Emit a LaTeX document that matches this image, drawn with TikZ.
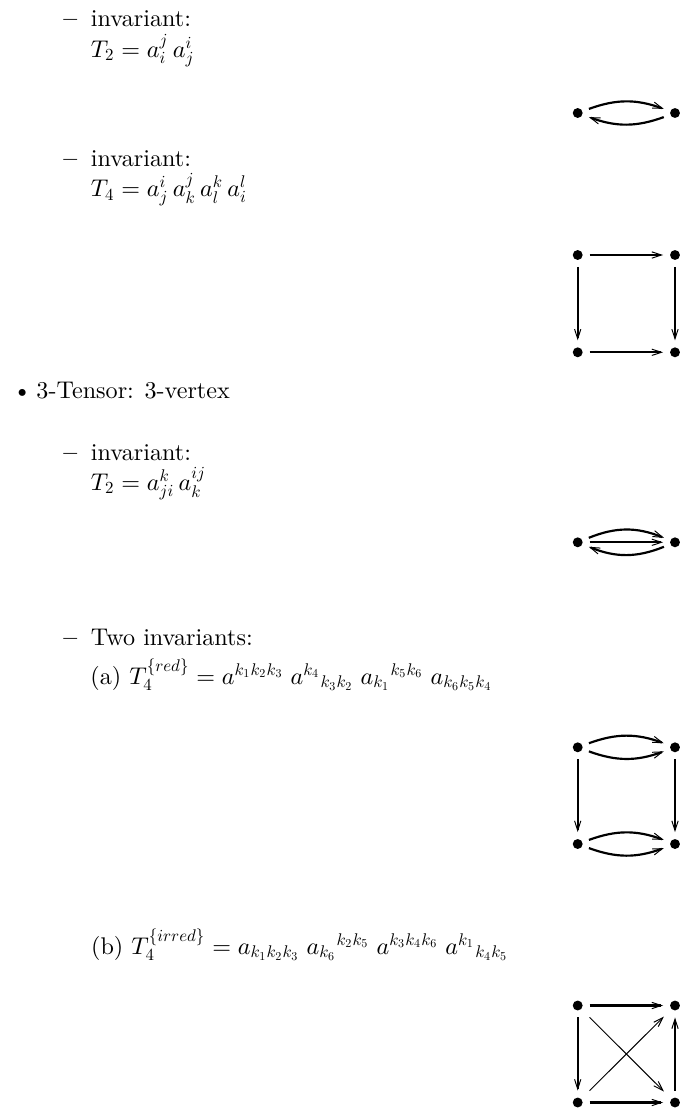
\documentclass[tikz,border=0pt]{standalone}
\usepackage{amsmath,amssymb}
\usepackage{tikz}
\usetikzlibrary{arrows.meta}
\DeclareFontShape{OML}{cmm}{m}{it}{<->cmmi10}{}
\DeclareFontShape{OT1}{cmr}{m}{n}{<->cmr10}{}
\DeclareFontShape{OMS}{cmsy}{m}{n}{<->cmsy10}{}
\DeclareMathSizes{10}{10}{7.001}{5.001}

\begin{document}
\begin{tikzpicture}[
  x=0.4143pt, y=-0.4143pt,
  txt/.style={anchor=base west, inner sep=0pt, font=\normalsize},
  dot/.style={circle, fill, inner sep=0pt, minimum size=4.1pt, outer sep=2.9pt},
  arr/.style={-{Straight Barb[length=4pt,width=2.6pt,line width=0.4pt]}, line width=0.9pt},
  diag/.style={-{Straight Barb[length=4pt,width=2.6pt,line width=0.4pt]}, line width=0.4pt, shorten <=2pt, shorten >=1.5pt}
]
  \useasboundingbox (0,0) rectangle (684,1109);

  \node[txt] (dashA) at (63,26) {\textbf{--}};
  \node[txt] (invA) at (90.5,26) {invariant:};
  \node[txt] (eqA) at (90.5,57) {$T_2 = a^j_i\,a^i_j$};
  \node[dot] (pa) at (577.7,113) {};
  \node[dot] (pb) at (675,113) {};
  \draw[arr] (pa) to[bend left=20] (pb);
  \draw[arr] (pb) to[bend left=20] (pa);

  \node[txt] (dashB) at (63,166.7) {\textbf{--}};
  \node[txt] (invB) at (90.5,166.7) {invariant:};
  \node[txt] (eqB) at (90.5,196.5) {$T_4 = a^i_j\,a^j_k\,a^k_l\,a^l_i$};
  \node[dot] (sa) at (577.7,255) {};
  \node[dot] (sb) at (675,255) {};
  \node[dot] (sc) at (577.7,352.3) {};
  \node[dot] (sd) at (675,352.3) {};
  \draw[arr] (sa) -- (sb);
  \draw[arr] (sa) -- (sc);
  \draw[arr] (sb) -- (sd);
  \draw[arr] (sc) -- (sd);

  \node[txt] (bulC) at (12.5,398.3) {\textbullet};
  \node[txt] (tensC) at (36,398.3) {3-Tensor: 3-vertex};

  \node[txt] (dashD) at (63,460) {\textbf{--}};
  \node[txt] (invD) at (90.5,460) {invariant:};
  \node[txt] (eqD) at (90.5,490) {$T_2 = a^k_{ji}\,a^{ij}_k$};
  \node[dot] (ta) at (577.7,542.3) {};
  \node[dot] (tb) at (675,542.3) {};
  \draw[arr] (ta) to[bend left=22] (tb);
  \draw[arr] (ta) -- (tb);
  \draw[arr] (tb) to[bend left=22] (ta);

  \node[txt] (dashE) at (63,645) {\textbf{--}};
  \node[txt] (twoE) at (90.5,645) {Two invariants:};
  \node[txt] (eqRed) at (90,684)
    {(a) $T_4^{\{red\}} = a^{k_1k_2k_3}\;a^{k_4}{}_{k_3k_2}\;a_{k_1}{}^{k_5k_6}\;a_{k_6k_5k_4}$};
  \node[dot] (qa) at (577.7,747.3) {};
  \node[dot] (qb) at (675,747.3) {};
  \node[dot] (qc) at (577.7,844) {};
  \node[dot] (qd) at (675,844) {};
  \draw[arr] (qa) to[bend left=20] (qb);
  \draw[arr] (qa) to[bend right=20] (qb);
  \draw[arr] (qa) -- (qc);
  \draw[arr] (qb) -- (qd);
  \draw[arr] (qc) to[bend left=20] (qd);
  \draw[arr] (qc) to[bend right=20] (qd);

  \node[txt] (eqIrr) at (90.7,954)
    {(b) $T_4^{\{irred\}} = a_{k_1k_2k_3}\;a_{k_6}{}^{k_2k_5}\;a^{k_3k_4k_6}\;a^{k_1}{}_{k_4k_5}$};
  \node[dot] (ra) at (577.7,1005.5) {};
  \node[dot] (rb) at (675,1005.5) {};
  \node[dot] (rc) at (577.7,1102.5) {};
  \node[dot] (rd) at (675,1102.5) {};
  \draw[arr] (ra) -- (rb);
  \draw[arr] (ra) -- (rc);
  \draw[arr] (rd) -- (rb);
  \draw[arr] (rc) -- (rd);
  \draw[diag] (ra) -- (rd);
  \draw[diag] (rc) -- (rb);
\end{tikzpicture}
\end{document}
